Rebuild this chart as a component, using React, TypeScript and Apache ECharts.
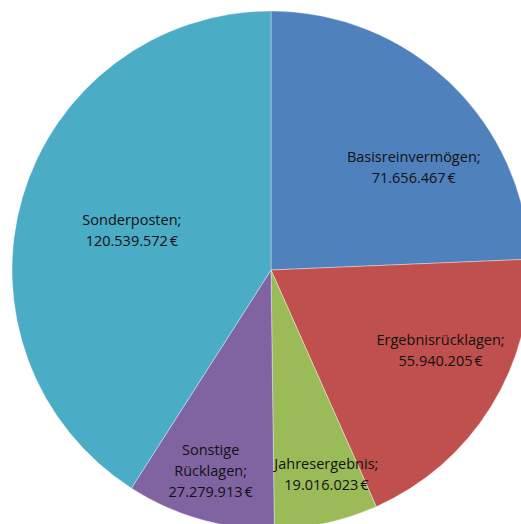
import React, { useEffect, useRef } from "react";
import * as echarts from "echarts";

// Equity composition (Eigenkapital) in euros
const categories = [
  "Basisreinvermögen",
  "Ergebnisrücklagen",
  "Jahresergebnis",
  "Sonstige\nRücklagen",
  "Sonderposten",
];
const values = [71656467, 55940205, 19016023, 27279913, 120539572];
const colors = ["#4F81BD", "#C0504D", "#9BBB59", "#8064A2", "#4BACC6"];

// Label nudges away from the default mid-radius anchor
const labelShift: [number, number][] = [
  [51, -7],
  [57, 10],
  [27, 75],
  [-24, 73],
  [-12, -3],
];

function formatEuro(v: number): string {
  const s = String(Math.round(v));
  return s.replace(/\B(?=(\d{3})+(?!\d))/g, ".") + "\u202F€";
}

export default function App() {
  const ref = useRef<HTMLDivElement>(null);

  useEffect(() => {
    if (!ref.current) return;
    const chart = echarts.init(ref.current, undefined, { renderer: "svg" });
    chart.setOption({
      animation: false,
      backgroundColor: "#ffffff",
      series: [
        {
          type: "pie",
          center: [271, 270],
          radius: 259,
          startAngle: 90,
          clockwise: true,
          data: categories.map((name, i) => ({
            name,
            value: values[i],
            itemStyle: { color: colors[i] },
          })),
          itemStyle: { borderColor: "rgba(255,255,255,0.45)", borderWidth: 0.8 },
          label: {
            show: true,
            position: "inside",
            formatter: (p: any) => `${p.name};\n${formatEuro(p.value)}`,
            fontFamily: "Open Sans",
            fontSize: 14.5,
            lineHeight: 21,
            color: "#111111",
            align: "center",
          },
          labelLine: { show: false },
          emphasis: { disabled: true },
          labelLayout: (params: any) => {
            const s = labelShift[params.dataIndex] || [0, 0];
            return { dx: s[0], dy: s[1] };
          },
        },
      ],
    });
    return () => chart.dispose();
  }, []);

  return (
    <div
      ref={ref}
      style={{ position: "absolute", left: 0, top: 0, width: 521, height: 524 }}
    />
  );
}
